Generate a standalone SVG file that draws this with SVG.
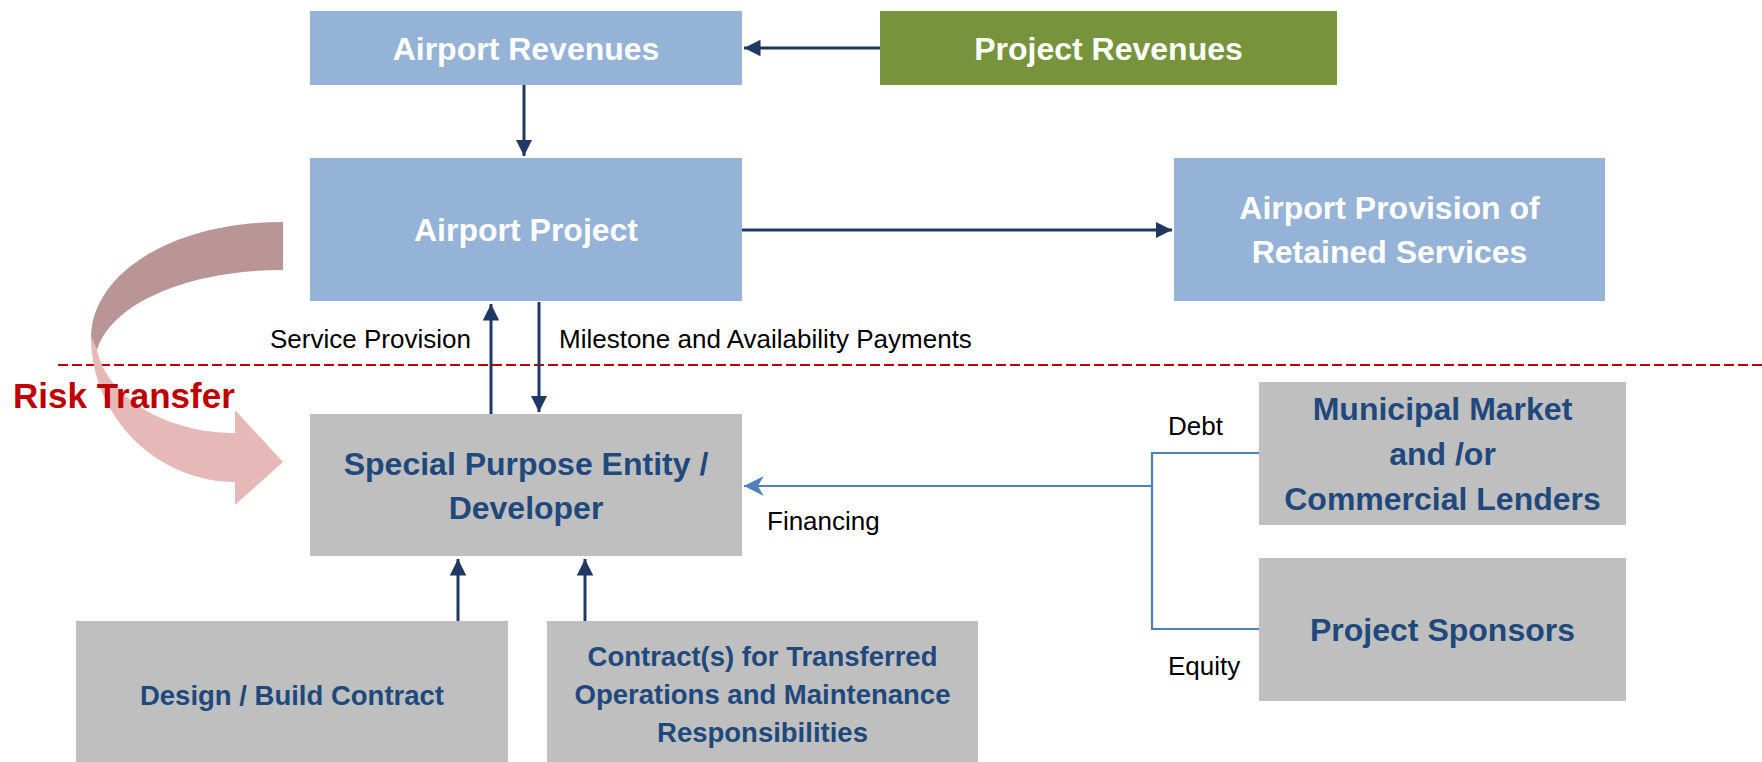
<svg xmlns="http://www.w3.org/2000/svg" width="1762" height="762" viewBox="0 0 1762 762">
<style>
.bl{fill:#95B3D7}
.gr{fill:#77933C}
.gy{fill:#BFBFBF}
.wt{font-family:"Liberation Sans",Arial,sans-serif;font-weight:bold;font-size:32px;fill:#FFFFFF;text-anchor:middle}
.bt{font-family:"Liberation Sans",Arial,sans-serif;font-weight:bold;font-size:32px;fill:#1F497D;text-anchor:middle}
.bs{font-family:"Liberation Sans",Arial,sans-serif;font-weight:bold;font-size:27.5px;fill:#1F497D;text-anchor:middle}
.lb{font-family:"Liberation Sans",Arial,sans-serif;font-size:26px;fill:#000000}
.nv{stroke:#1F3864;stroke-width:3;fill:none}
.fn{stroke:#4F81BD;stroke-width:2.2;fill:none}
</style>
<defs>
<marker id="ah" viewBox="0 0 10 10" refX="10" refY="5" markerWidth="5.5" markerHeight="5.5" orient="auto" markerUnits="strokeWidth">
<path d="M0,0 L10,5 L0,10 Z" fill="#1F3864"/>
</marker>
<marker id="ahf" viewBox="0 0 10 10" refX="10" refY="5" markerWidth="9" markerHeight="9" orient="auto" markerUnits="strokeWidth">
<path d="M0,0 L10,5 L0,10 L3,5 Z" fill="#4F81BD"/>
</marker>
</defs>
<rect width="1762" height="762" fill="#FFFFFF"/>
<line x1="58" y1="365" x2="1762" y2="365" stroke="#C00000" stroke-width="2" stroke-dasharray="10,4"/>
<g id="risk-transfer">
<path d="M283,222 C170,222 91,275 91,338 L97,350 C112,302 190,270 283,270 Z" fill="#B99695"/>
<path d="M91,336 C91,420 160,482 235,482 L235,505 L283,462 L235,410 L235,433 C170,433 108,400 97,350 Z" fill="#E6B8B7"/>
<text x="13" y="408" font-family="Liberation Sans,Arial,sans-serif" font-weight="bold" font-size="35" fill="#C00000">Risk Transfer</text>
</g>
<g id="connectors">
<line class="nv" x1="880" y1="48" x2="744" y2="48" marker-end="url(#ah)"/>
<line class="nv" x1="524" y1="85" x2="524" y2="156" marker-end="url(#ah)"/>
<line class="nv" x1="742" y1="230" x2="1172" y2="230" marker-end="url(#ah)"/>
<line class="nv" x1="491" y1="414" x2="491" y2="304" marker-end="url(#ah)"/>
<line class="nv" x1="539" y1="302" x2="539" y2="412" marker-end="url(#ah)"/>
<line class="nv" x1="458" y1="621" x2="458" y2="559" marker-end="url(#ah)"/>
<line class="nv" x1="585" y1="621" x2="585" y2="559" marker-end="url(#ah)"/>
<polyline class="fn" points="1259,453 1152,453 1152,629 1259,629"/>
<line class="fn" x1="1152" y1="486" x2="744" y2="486" marker-end="url(#ahf)"/>
<text class="lb" x="270" y="348">Service Provision</text>
<text class="lb" x="559" y="348" font-size="27">Milestone and Availability Payments</text>
<text class="lb" x="767" y="530">Financing</text>
<text class="lb" x="1168" y="435">Debt</text>
<text class="lb" x="1168" y="675">Equity</text>
</g>
<g id="airport-revenues">
<rect class="bl" x="310" y="11" width="432" height="74"/>
<text class="wt" x="526" y="60">Airport Revenues</text>
</g>
<g id="project-revenues">
<rect class="gr" x="880" y="11" width="457" height="74"/>
<text class="wt" x="1108.5" y="60">Project Revenues</text>
</g>
<g id="airport-project">
<rect class="bl" x="310" y="158" width="432" height="143"/>
<text class="wt" x="526" y="241">Airport Project</text>
</g>
<g id="airport-provision">
<rect class="bl" x="1174" y="158" width="431" height="143"/>
<text class="wt" x="1389.5" y="219">Airport Provision of</text>
<text class="wt" x="1389.5" y="263">Retained Services</text>
</g>
<g id="spe">
<rect class="gy" x="310" y="414" width="432" height="142"/>
<text class="bt" x="526" y="475">Special Purpose Entity /</text>
<text class="bt" x="526" y="519">Developer</text>
</g>
<g id="municipal">
<rect class="gy" x="1259" y="382" width="367" height="143"/>
<text class="bt" x="1442.5" y="420">Municipal Market</text>
<text class="bt" x="1442.5" y="465">and /or</text>
<text class="bt" x="1442.5" y="510">Commercial Lenders</text>
</g>
<g id="sponsors">
<rect class="gy" x="1259" y="558" width="367" height="143"/>
<text class="bt" x="1442.5" y="641">Project Sponsors</text>
</g>
<g id="design-build">
<rect class="gy" x="76" y="621" width="432" height="145"/>
<text class="bs" x="292" y="705">Design / Build Contract</text>
</g>
<g id="contracts">
<rect class="gy" x="547" y="621" width="431" height="145"/>
<text class="bs" x="762.5" y="666">Contract(s) for Transferred</text>
<text class="bs" x="762.5" y="704">Operations and Maintenance</text>
<text class="bs" x="762.5" y="742">Responsibilities</text>
</g>
</svg>
